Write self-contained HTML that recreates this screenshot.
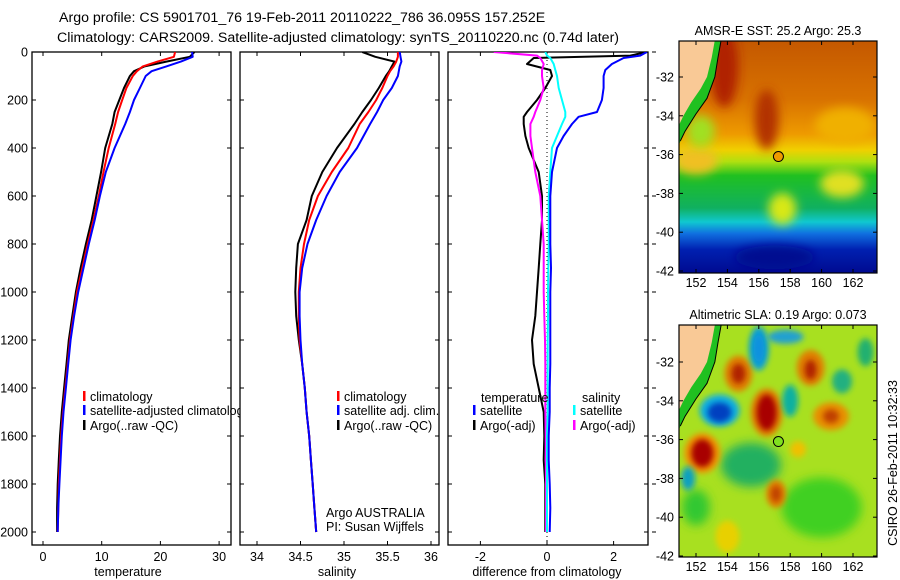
<!DOCTYPE html>
<html><head><meta charset="utf-8">
<style>
html,body{margin:0;padding:0;background:#fff;}
svg{display:block;font-family:"Liberation Sans",sans-serif;}
</style></head>
<body>
<svg id="fig" width="900" height="580" viewBox="0 0 900 580" xmlns="http://www.w3.org/2000/svg">
<defs>
<clipPath id="c1"><rect x="32" y="52" width="199" height="493"/></clipPath>
<clipPath id="c2"><rect x="240" y="52" width="199" height="493"/></clipPath>
<clipPath id="c3"><rect x="448" y="52" width="200" height="493"/></clipPath>
<clipPath id="m1"><rect x="679" y="41" width="198" height="232"/></clipPath>
<clipPath id="m2"><rect x="679" y="325" width="198" height="232"/></clipPath>
<filter id="bl" x="-50%" y="-50%" width="200%" height="200%"><feGaussianBlur stdDeviation="5"/></filter>
<filter id="bl2" x="-50%" y="-50%" width="200%" height="200%"><feGaussianBlur stdDeviation="3"/></filter>
<linearGradient id="sstg" x1="0" y1="0" x2="0" y2="1">
<stop offset="0" stop-color="#c45800"/>
<stop offset="0.25" stop-color="#d87200"/>
<stop offset="0.4" stop-color="#ee9a00"/>
<stop offset="0.47" stop-color="#f0d000"/>
<stop offset="0.52" stop-color="#b0e010"/>
<stop offset="0.58" stop-color="#20c020"/>
<stop offset="0.72" stop-color="#10b060"/>
<stop offset="0.78" stop-color="#10c8d0"/>
<stop offset="0.83" stop-color="#1070e0"/>
<stop offset="0.9" stop-color="#0020b0"/>
<stop offset="1" stop-color="#000a90"/>
</linearGradient>
</defs>
<rect width="900" height="580" fill="#fff"/>
<text x="59" y="22" font-size="14.2">Argo profile: CS 5901701_76 19-Feb-2011 20110222_786 36.095S 157.252E</text>
<text x="57" y="42" font-size="14.2">Climatology: CARS2009. Satellite-adjusted climatology: synTS_20110220.nc (0.74d later)</text>
<g id="p1"></g>
<g id="p2"></g>
<g id="p3"></g>
<g id="maps"></g>
<text transform="translate(897,463) rotate(-90)" text-anchor="middle" font-size="12.5">CSIRO 26-Feb-2011 10:32:33</text>
</svg>
<script>
const depths = [0,20,40,60,80,100,150,200,250,300,400,500,600,700,800,900,1000,1100,1200,1300,1400,1500,1600,1700,1800,1900,2000];
const tempClim = [22.5,22.3,19.5,17,16,15.3,14.2,13.5,12.8,12.3,11.2,10.3,9.5,8.6,7.6,6.7,5.8,5.2,4.6,4.2,3.8,3.4,3.1,2.9,2.7,2.6,2.5];
const tempSat = [25.4,25.5,23.5,21,18.5,17.5,16.5,15.5,14.8,14,12.2,10.7,9.7,8.8,7.8,6.9,6.0,5.3,4.7,4.3,3.9,3.5,3.2,3.0,2.8,2.6,2.5];
const tempArgo = [25.8,25,21,17.3,15.5,14.8,13.8,13,12.2,11.8,10.6,9.9,9.1,8.3,7.3,6.4,5.6,5.0,4.4,4.0,3.6,3.2,2.9,2.7,2.5,2.4,2.4];
const salClim = [35.62,35.62,35.6,35.57,35.53,35.5,35.44,35.37,35.28,35.18,35.05,34.86,34.7,34.6,34.54,34.5,34.48,34.48,34.49,34.52,34.55,34.57,34.6,34.62,34.64,34.66,34.68];
const salSat = [35.64,35.65,35.66,35.64,35.63,35.62,35.55,35.45,35.38,35.3,35.15,34.95,34.8,34.68,34.58,34.52,34.49,34.49,34.5,34.52,34.55,34.57,34.6,34.62,34.64,34.66,34.68];
const salArgo = [35.21,35.36,35.58,35.55,35.52,35.48,35.4,35.31,35.21,35.12,34.92,34.75,34.63,34.57,34.47,34.45,34.44,34.45,34.48,34.52,34.55,34.57,34.6,34.62,34.64,34.66,34.68];
const diffDepths = [0,15,25,50,75,100,150,200,250,270,300,350,400,500,600,700,800,900,1000,1100,1200,1300,1400,1500,1600,1700,1800,1900,2000];
const dTempSat = [3.0,2.8,2.3,1.95,1.75,1.7,1.7,1.65,1.5,0.95,0.75,0.5,0.3,0.15,0.1,0.1,0.1,0.12,0.1,0.1,0.1,0.1,0.08,0.08,0.05,0.05,0.08,0.1,0.08];
const dTempArgo = [3.0,2.5,-0.4,-0.6,0.1,0.15,-0.05,-0.3,-0.6,-0.7,-0.7,-0.65,-0.55,-0.25,-0.15,-0.15,-0.2,-0.25,-0.3,-0.35,-0.45,-0.4,-0.25,-0.1,-0.08,-0.1,-0.05,-0.05,-0.05];
const dSalSat = [-0.05,0,0.1,0.2,0.25,0.3,0.35,0.45,0.55,0.55,0.45,0.3,0.15,0.1,0.05,0.05,0.05,0.04,0.03,0.03,0.02,0.02,0.02,0.02,0.0,0.0,0.0,0.0,0.0];
const dSalArgo = [-1.6,-0.3,-0.2,-0.1,-0.15,-0.15,-0.1,-0.2,-0.35,-0.4,-0.5,-0.5,-0.45,-0.35,-0.2,-0.15,-0.1,-0.1,-0.1,-0.08,-0.06,-0.05,-0.05,-0.05,-0.04,-0.04,-0.03,-0.03,-0.03];
const depthTicks = [0,200,400,600,800,1000,1200,1400,1600,1800,2000];
const tempTicks = [0,10,20,30];
const salTicks = [34,34.5,35,35.5,36];
const salTickLabels = ["34","34.5","35","35.5","36"];
const diffTicks = [-2,0,2];
const sstLatTicks = [-32,-34,-36,-38,-40,-42];
const lonTicks = [152,154,156,158,160,162];

const NS = "http://www.w3.org/2000/svg";
function mk(tag, attrs, parent){const e=document.createElementNS(NS,tag);for(const k in attrs)e.setAttribute(k,attrs[k]);if(parent)parent.appendChild(e);return e;}
const yD = d => 52 + d*0.24;
const xT = v => 43 + v*5.87;
const xS = v => 257 + (v-34)*87;
const xDf = v => 547 + v*33.3;

function frame(g,x,y,w,h){
  const r = mk('rect',{x:x,y:y,width:w,height:h,fill:'#fff',stroke:'#000','stroke-width':1.3},g);
  
  
}
function line(g,xs,ys,xf,color,clip,w,name){
  const pts = xs.map((v,i)=>xf(v).toFixed(1)+','+yD(ys[i]).toFixed(1)).join(' ');
  const p = mk('polyline',{points:pts,fill:'none',stroke:color,'stroke-width':w||2,'clip-path':'url(#'+clip+')','stroke-linejoin':'round'},g);
  
  
}
function xticks(g,ticks,labels,xf,x0,x1,label,lx){
  ticks.forEach((t,i)=>{
    const x=xf(t);
    mk('line',{x1:x,y1:545,x2:x,y2:541,stroke:'#000'},g);
    mk('line',{x1:x,y1:52,x2:x,y2:56,stroke:'#000'},g);
    const tx=mk('text',{x:x,y:561,'font-size':12.5,'text-anchor':'middle'},g);
    tx.textContent=labels[i];
    
    
  });
  const t=mk('text',{x:lx,y:576,'font-size':12.5,'text-anchor':'middle'},g);
  t.textContent=label;
  
  
}
function yticks(g,x0,x1,labels){
  depthTicks.forEach(d=>{
    const y=yD(d);
    mk('line',{x1:x0,y1:y,x2:x0+4,y2:y,stroke:'#000'},g);
    mk('line',{x1:x1,y1:y,x2:x1-4,y2:y,stroke:'#000'},g);
    if(labels){
      const t=mk('text',{x:28,y:y+4.5,'font-size':12.5,'text-anchor':'end'},g);
      t.textContent=d;
      
      
    }
  });
}
function legend(g,x,y,color,label){
  const m=mk('rect',{x:x,y:y-6,width:2.5,height:10,fill:color},g);
  
  
  const t=mk('text',{x:x+7,y:y+4,'font-size':12.5},g);
  t.textContent=label;
  
  
}

// Panel 1
const p1=document.getElementById('p1');
frame(p1,32,52,199,493);
yticks(p1,32,231,true);
xticks(p1,tempTicks,tempTicks.map(String),xT,32,231,'temperature',128);
line(p1,tempArgo,depths,xT,'#000','c1',2,'temperature-argo-line');
line(p1,tempClim,depths,xT,'#f00','c1',2,'temperature-climatology-line');
line(p1,tempSat,depths,xT,'#00f','c1',2,'temperature-satellite-line');
legend(p1,83,397,'#f00','climatology');
legend(p1,83,411,'#00f','satellite-adjusted climatology');
legend(p1,83,426,'#000','Argo(..raw -QC)');

// Panel 2
const p2=document.getElementById('p2');
frame(p2,240,52,199,493);
yticks(p2,240,439,false);
xticks(p2,salTicks,salTickLabels,xS,240,439,'salinity',337);
line(p2,salArgo,depths,xS,'#000','c2',2,'salinity-argo-line');
line(p2,salClim,depths,xS,'#f00','c2',2,'salinity-climatology-line');
line(p2,salSat,depths,xS,'#00f','c2',2,'salinity-satellite-line');
legend(p2,337,397,'#f00','climatology');
legend(p2,337,411,'#00f','satellite adj. clim.');
legend(p2,337,426,'#000','Argo(..raw -QC)');
[['Argo AUSTRALIA',517],['PI: Susan Wijffels',531]].forEach(a=>{
  const t=mk('text',{x:326,y:a[1],'font-size':12.5},p2);t.textContent=a[0];
  
  
});

// Panel 3
const p3=document.getElementById('p3');
frame(p3,448,52,200,493);
yticks(p3,448,648,false);
depthTicks.forEach(d=>{mk('line',{x1:652,y1:yD(d),x2:656,y2:yD(d),stroke:'#000'},p3);});
xticks(p3,diffTicks,diffTicks.map(String),xDf,448,648,'difference from climatology',547);
const zl=mk('line',{x1:xDf(0),y1:52,x2:xDf(0),y2:545,stroke:'#000','stroke-dasharray':'1,3'},p3);


line(p3,dTempArgo,diffDepths,xDf,'#000','c3',2,'temp-argo-diff-line');
line(p3,dSalArgo,diffDepths,xDf,'#f0f','c3',2,'salinity-argo-diff-line');
line(p3,dSalSat,diffDepths,xDf,'#0ff','c3',2,'salinity-satellite-diff-line');
line(p3,dTempSat,diffDepths,xDf,'#00f','c3',2,'temp-satellite-diff-line');
const tt=mk('text',{x:481,y:402,'font-size':12.5},p3);tt.textContent='temperature';


const st=mk('text',{x:582,y:402,'font-size':12.5},p3);st.textContent='salinity';


legend(p3,473,411,'#00f','satellite');
legend(p3,473,426,'#000','Argo(-adj)');
legend(p3,573,411,'#0ff','satellite');
legend(p3,573,426,'#f0f','Argo(-adj)');

// Maps
const maps=document.getElementById('maps');
const lonX = lon => 696 + (lon-152)*15.7;
function mapAxes(g,top,bottom,lat0y,title,name){
  const latY = lat => lat0y + (-32-lat)*19.4;
  const t=mk('text',{x:778,y:top-6,'font-size':12.5,'text-anchor':'middle'},g);t.textContent=title;
  
  
  mk('rect',{x:679,y:top,width:198,height:bottom-top,fill:'none',stroke:'#000','stroke-width':1.2},g);
  sstLatTicks.forEach(l=>{
    const y=latY(l);
    mk('line',{x1:679,y1:y,x2:683,y2:y,stroke:'#000'},g);
    mk('line',{x1:877,y1:y,x2:873,y2:y,stroke:'#000'},g);
    const tx=mk('text',{x:674,y:y+4.5,'font-size':12.5,'text-anchor':'end'},g);tx.textContent=l;
    
    
  });
  lonTicks.forEach(l=>{
    const x=lonX(l);
    mk('line',{x1:x,y1:bottom,x2:x,y2:bottom-4,stroke:'#000'},g);
    mk('line',{x1:x,y1:top,x2:x,y2:top+4,stroke:'#000'},g);
    const tx=mk('text',{x:x,y:bottom+14,'font-size':12.5,'text-anchor':'middle'},g);tx.textContent=l;
    
    
  });
  return latY;
}
function land(g,latY){
  const shelf=[[153.6,-30.1],[153.4,-31],[153.2,-32],[152.7,-33.1],[152,-33.9],[151.3,-34.8],[150.9,-35.5],[150.9,-30.1]];
  const sh=mk('polygon',{points:shelf.map(a=>lonX(a[0])+','+latY(a[1])).join(' '),fill:'#20c020'},g);
  
  
  const pts=[[150.9,-30.1],[153.2,-30.1],[153.0,-31],[152.7,-32],[152.3,-32.6],[151.7,-33.3],[151.2,-34.0],[150.9,-34.5]];
  const p=mk('polygon',{points:pts.map(a=>lonX(a[0])+','+latY(a[1])).join(' '),fill:'#f9c996'},g);
  
  
  const cs=[[153.6,-30.1],[153.4,-31],[153.2,-32],[152.7,-33.1],[152,-33.9],[151.3,-34.8],[151,-35.3]];
  mk('polyline',{points:cs.map(a=>lonX(a[0])+','+latY(a[1])).join(' '),fill:'none',stroke:'#000','stroke-width':1},g);
}
function blob(g,latY,lon,lat,rx,ry,color,f){
  mk('ellipse',{cx:lonX(lon),cy:latY(lat),rx:rx,ry:ry,fill:color,filter:'url(#'+(f||'bl')+')'},g);
}
// SST map
const g1=mk('g',{'clip-path':'url(#m1)'},maps);


const latY1 = lat => 77 + (-32-lat)*19.4;
mk('rect',{x:679,y:41,width:198,height:232,fill:'url(#sstg)'},g1);
blob(g1,latY1,156.5,-34.2,12,30,'#b23000');
blob(g1,latY1,153.8,-31.5,14,40,'#b02000');
blob(g1,latY1,161.5,-34.5,30,18,'#f0b000');
blob(g1,latY1,152,-36.3,22,14,'#f0c020');
blob(g1,latY1,157.5,-38.8,14,16,'#d8e818');
blob(g1,latY1,161.3,-37.5,22,14,'#e0e020');
blob(g1,latY1,152.3,-34.8,14,16,'#a0e020');
blob(g1,latY1,157,-41.3,40,12,'#000890');
land(g1,latY1);
const c1=mk('circle',{cx:lonX(157.25),cy:latY1(-36.1),r:5,fill:'#ee9a00',stroke:'#000'},maps);


mapAxes(maps,41,273,77,'AMSR-E SST: 25.2 Argo: 25.3','sst-map');

// SLA map
const g2=mk('g',{'clip-path':'url(#m2)'},maps);


const latY2 = lat => 362 + (-32-lat)*19.4;
mk('rect',{x:679,y:325,width:198,height:232,fill:'#a8e020'},g2);
blob(g2,latY2,155.5,-37.3,30,22,'#20b060');
blob(g2,latY2,160,-39.5,40,30,'#40d020');
blob(g2,latY2,152,-39.5,14,18,'#30c830');
const sla=[[152.4,-36.7,18,20,'#f09000'],[152.4,-36.7,11,14,'#a80000'],[154.7,-32.6,14,18,'#e08000'],[154.7,-32.6,7,10,'#b02000'],
[156.5,-34.6,16,24,'#e08000'],[156.5,-34.6,10,18,'#a80000'],[159.3,-32.3,14,18,'#e08000'],[159.3,-32.4,6,10,'#b02000'],
[160.6,-34.8,18,14,'#e89000'],[160.6,-34.8,8,7,'#c04000'],[157.1,-38.8,10,14,'#e08000'],[157.1,-38.8,5,8,'#c04000'],
[153.5,-34.5,20,16,'#10b0e0'],[153.5,-34.6,12,10,'#0040c0'],[156,-31.3,10,22,'#10a0d0'],[156,-31.3,5,14,'#1090e0'],
[158,-34,8,16,'#10b0a0'],[161.3,-33,10,12,'#20b080'],[157.7,-30.7,18,7,'#20a0d0'],[151.5,-38,7,12,'#10a0c0'],
[162.8,-31.5,8,14,'#20b070'],[158.5,-36.5,8,8,'#f0c000'],[154,-41,12,16,'#e8d000']];
sla.forEach(b=>blob(g2,latY2,b[0],b[1],b[2],b[3],b[4],'bl2'));
land(g2,latY2);
const c2=mk('circle',{cx:lonX(157.25),cy:latY2(-36.1),r:5,fill:'#80e020',stroke:'#000'},maps);


mapAxes(maps,325,557,362,'Altimetric SLA: 0.19 Argo: 0.073','sla-map');
</script>
</body></html>
